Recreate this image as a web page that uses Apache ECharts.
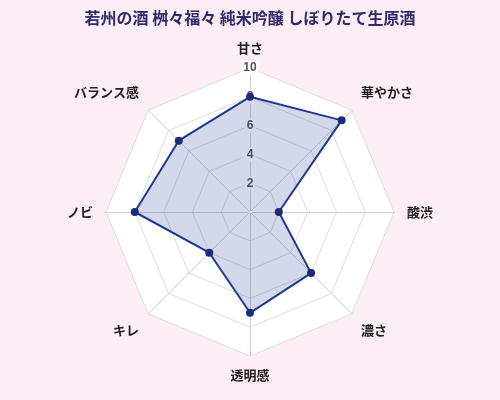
<!DOCTYPE html>
<html>
<head>
<meta charset="utf-8">
<script src="https://cdn.jsdelivr.net/npm/echarts@6/dist/echarts.min.js"></script>
<style>
  html, body { margin: 0; padding: 0; background: #fdedf4; }
  #chart { width: 500px; height: 400px; }
</style>
</head>
<body>
<div id="chart"></div>
<script>
// 指標名（上から時計回り）
const indicators = ['甘さ', '華やかさ', '酸渋', '濃さ', '透明感', 'キレ', 'ノビ', 'バランス感'];
// 評価値
const scores = [8, 9, 2, 6, 7, 4, 8, 7];
const maxScore = 10;

// echartsのradarは反時計回りなので、先頭以外を逆順にする
const ccw = arr => [arr[0]].concat(arr.slice(1).reverse());

// 斜めのラベルは少し外側へ
const upper = ['華やかさ', 'バランス感'];
const lower = ['濃さ', 'キレ'];

const chart = echarts.init(document.getElementById('chart'));
const option = {
  backgroundColor: '#fdedf4',
  title: {
    text: '若州の酒 桝々福々 純米吟醸 しぼりたて生原酒',
    left: 'center',
    top: 5,
    textStyle: { fontSize: 16, fontWeight: 'bold', color: '#2e2b6e', fontFamily: 'Noto Sans CJK JP' }
  },
  radar: {
    center: [250, 212],
    radius: 144,
    shape: 'polygon',
    splitNumber: 5,
    indicator: ccw(indicators).map((n, i) => ({
      name: n, min: 0, max: maxScore,
      axisLabel: { show: i === 0 }
    })),
    axisName: {
      color: '#222', fontSize: 13, fontWeight: 'bold', fontFamily: 'Noto Sans CJK JP',
      formatter: n => upper.includes(n) ? '{u|' + n + '}' : lower.includes(n) ? '{d|' + n + '}' : n,
      rich: {
        u: { padding: [0, 0, 18, 0], fontSize: 13, fontWeight: 'bold', color: '#222' },
        d: { padding: [14, 0, 0, 0], fontSize: 13, fontWeight: 'bold', color: '#222' }
      }
    },
    nameGap: 13,
    splitArea: { show: true, areaStyle: { color: ['#fff'] } },
    splitLine: { lineStyle: { color: '#dcdcdc' } },
    axisLine: { lineStyle: { color: '#cfcfcf' } },
    axisLabel: {
      show: true,
      color: '#555',
      fontSize: 12,
      fontWeight: 'bold',
      margin: 0,
      align: 'center',
      verticalAlign: 'middle',
      backgroundColor: '#fff',
      padding: [1, 2],
      formatter: v => (v === 0 ? '' : v)
    }
  },
  series: [{
    type: 'radar',
    symbol: 'circle',
    symbolSize: 8,
    lineStyle: { color: '#1f3a93', width: 2 },
    itemStyle: { color: '#1c2b7d' },
    areaStyle: { color: 'rgba(31,58,147,0.28)' },
    data: [{ value: ccw(scores) }]
  }]
};
chart.setOption(option);
</script>
</body>
</html>
